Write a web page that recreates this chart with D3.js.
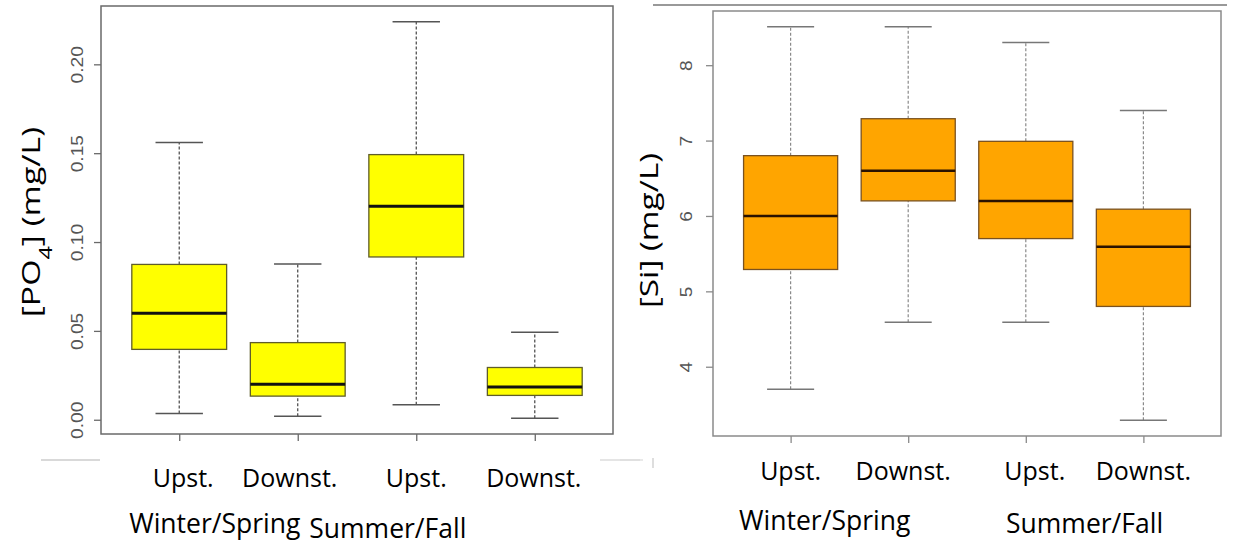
<!DOCTYPE html>
<html>
<head>
<meta charset="utf-8">
<script src="https://cdn.jsdelivr.net/npm/d3@7"></script>
<style>
  body { margin: 0; background: #fff; }
  svg { display: block; }
</style>
</head>
<body>
<script>
// Chart size
const width = 1236;
const height = 548;

// Box labels and season labels
const categories = ["Upst.", "Downst.", "Upst.", "Downst."];
const seasons = ["Winter/Spring", "Summer/Fall"];

// [PO4] box stats (mg/L)
const po4Low    = [0.0035, 0.0019, 0.0084, 0.0009];
const po4Q1     = [0.0396, 0.0133, 0.0916, 0.0137];
const po4Median = [0.0599, 0.0200, 0.1201, 0.0184];
const po4Q3     = [0.0874, 0.0434, 0.1492, 0.0294];
const po4High   = [0.1560, 0.0876, 0.2239, 0.0493];
const po4Ticks  = [0, 0.05, 0.10, 0.15, 0.20];

// [Si] box stats (mg/L)
const siLow    = [3.70, 4.59, 4.59, 3.29];
const siQ1     = [5.29, 6.20, 5.70, 4.80];
const siMedian = [6.00, 6.60, 6.20, 5.59];
const siQ3     = [6.80, 7.29, 6.99, 6.09];
const siHigh   = [8.51, 8.51, 8.30, 7.40];
const siTicks  = [4, 5, 6, 7, 8];

const svg = d3.select("body")
    .append("svg")
    .attr("width", width)
    .attr("height", height);

// R-style range padding (4%)
function padRange(lo, hi) {
    const d = (hi - lo) * 0.04;
    return [lo - d, hi + d];
}

function drawPanel(opts) {
    const stats = categories.map((c, i) => ({
        i: i + 1,
        low: opts.low[i], q1: opts.q1[i], med: opts.median[i],
        q3: opts.q3[i], high: opts.high[i]
    }));

    const x = d3.scaleLinear()
        .domain(padRange(0.5, 4.5))
        .range([opts.left, opts.right]);

    const y = d3.scaleLinear()
        .domain(padRange(d3.min(opts.low), d3.max(opts.high)))
        .range([opts.bottom, opts.top]);

    const g = svg.append("g");
    const boxW = x(1.4) - x(1);
    const capW = x(1.2) - x(1);

    // whiskers
    g.selectAll(".whisker")
        .data(stats.flatMap(d => [[d.low, d.q1, d.i], [d.q3, d.high, d.i]]))
        .enter()
        .append("line")
        .attr("x1", d => x(d[2]))
        .attr("x2", d => x(d[2]))
        .attr("y1", d => y(d[0]))
        .attr("y2", d => y(d[1]))
        .attr("stroke", opts.whiskerColor)
        .attr("stroke-width", 1.2)
        .attr("stroke-dasharray", "3,2");

    // caps
    g.selectAll(".cap")
        .data(stats.flatMap(d => [[d.low, d.i], [d.high, d.i]]))
        .enter()
        .append("line")
        .attr("x1", d => x(d[1]) - capW)
        .attr("x2", d => x(d[1]) + capW)
        .attr("y1", d => y(d[0]))
        .attr("y2", d => y(d[0]))
        .attr("stroke", opts.capColor)
        .attr("stroke-width", 1.5);

    // boxes
    g.selectAll(".box")
        .data(stats)
        .enter()
        .append("rect")
        .attr("x", d => x(d.i) - boxW)
        .attr("y", d => y(d.q3))
        .attr("width", boxW * 2)
        .attr("height", d => y(d.q1) - y(d.q3))
        .attr("fill", opts.fill)
        .attr("stroke", opts.boxStroke)
        .attr("stroke-width", 1.3);

    // medians
    g.selectAll(".median")
        .data(stats)
        .enter()
        .append("line")
        .attr("x1", d => x(d.i) - boxW)
        .attr("x2", d => x(d.i) + boxW)
        .attr("y1", d => y(d.med))
        .attr("y2", d => y(d.med))
        .attr("stroke", opts.medianColor)
        .attr("stroke-width", opts.medianWidth);

    // frame
    g.append("rect")
        .attr("x", opts.left)
        .attr("y", opts.top)
        .attr("width", opts.right - opts.left)
        .attr("height", opts.bottom - opts.top)
        .attr("fill", "none")
        .attr("stroke", opts.frameColor)
        .attr("stroke-width", 1.5);

    // y axis (rotated R-style labels)
    const yAxis = g.append("g")
        .attr("transform", `translate(${opts.left}, 0)`)
        .call(d3.axisLeft(y).tickValues(opts.ticks).tickSize(7).tickFormat(d3.format(opts.fmt)));
    yAxis.select(".domain").remove();
    yAxis.selectAll("line").attr("stroke", opts.frameColor).attr("stroke-width", 1.3);
    yAxis.selectAll("text")
        .attr("x", null)
        .attr("dy", "0.36em")
        .attr("transform", `translate(${opts.tickLabelX - opts.left}, 0) rotate(-90) scale(${opts.tickStretch}, 1)`)
        .attr("text-anchor", "middle")
        .style("font-family", "'Liberation Sans', Arial, sans-serif")
        .style("font-size", "16px")
        .attr("fill", "#555");

    // x axis ticks
    const xAxis = g.append("g")
        .attr("transform", `translate(0, ${opts.bottom})`)
        .call(d3.axisBottom(x).tickValues([1, 2, 3, 4]).tickSize(7).tickFormat(""));
    xAxis.select(".domain").remove();
    xAxis.selectAll("line").attr("stroke", opts.frameColor).attr("stroke-width", 1.3);

    // y title
    const title = g.append("text")
        .attr("transform", `translate(${opts.titleX}, ${(opts.top + opts.bottom) / 2 + opts.titleShift}) rotate(-90) scale(${opts.titleStretch}, 1)`)
        .attr("text-anchor", "middle")
        .attr("dy", "0.3em")
        .style("font-family", "'Open Sans', sans-serif")
        .style("font-size", "26px")
        .attr("fill", "#000");
    title.append("tspan").text(opts.titleA);
    if (opts.titleSub) {
        title.append("tspan").text(opts.titleSub)
            .attr("baseline-shift", "sub")
            .style("font-size", "18px");
        title.append("tspan").text(opts.titleB);
    }

    // category labels
    g.selectAll(".cat")
        .data(categories)
        .enter()
        .append("text")
        .attr("x", (d, i) => x(i + 1) + opts.catShift[i])
        .attr("y", opts.catY)
        .attr("text-anchor", "middle")
        .style("font-family", "'Open Sans', sans-serif")
        .style("font-size", "25px")
        .text(d => d);

    // season labels
    g.selectAll(".season")
        .data(seasons)
        .enter()
        .append("text")
        .attr("x", (d, i) => x(opts.seasonAt[i]))
        .attr("y", (d, i) => opts.seasonY[i])
        .attr("text-anchor", "middle")
        .style("font-family", "'Open Sans', sans-serif")
        .style("font-size", "26.5px")
        .text(d => d);
}

// Left panel: phosphate
drawPanel({
    low: po4Low, q1: po4Q1, median: po4Median, q3: po4Q3, high: po4High,
    ticks: po4Ticks, fmt: ".2f",
    left: 101, right: 613, top: 6, bottom: 434,
    fill: "#ffff00", boxStroke: "#5f5d2a",
    medianColor: "#111", medianWidth: 3,
    whiskerColor: "#444", capColor: "#555", frameColor: "#6a6a6a",
    tickLabelX: 77, tickStretch: 1.2,
    titleX: 32, titleShift: 2, titleStretch: 1.3,
    titleA: "[PO", titleSub: "4", titleB: "] (mg/L)",
    catY: 487, catShift: [4, -8, 0, -1],
    seasonAt: [1.3, 2.76], seasonY: [533, 538]
});

// Right panel: silica
drawPanel({
    low: siLow, q1: siQ1, median: siMedian, q3: siQ3, high: siHigh,
    ticks: siTicks, fmt: "d",
    left: 713, right: 1221, top: 11, bottom: 436,
    fill: "#ffa500", boxStroke: "#7a5220",
    medianColor: "#2a1200", medianWidth: 2.5,
    whiskerColor: "#8a8a8a", capColor: "#777", frameColor: "#8a8a8a",
    tickLabelX: 686, tickStretch: 1.2,
    titleX: 650, titleShift: 7, titleStretch: 1.28,
    titleA: "[Si] (mg/L)",
    catY: 480, catShift: [0, -5, 9, 0],
    seasonAt: [1.29, 3.5], seasonY: [530, 533]
});

// stray rule lines left over from the source slide
const rules = [
    [41, 460, 100, 460, "#ccc"],
    [600, 460, 640, 460, "#ddd"],
    [620, 460, 643, 460, "#ddd"],
    [653, 458, 653, 468, "#ccc"],
    [653, 5, 1227, 5, "#777"]
];
svg.selectAll(".rule")
    .data(rules)
    .enter()
    .append("line")
    .attr("x1", d => d[0]).attr("y1", d => d[1])
    .attr("x2", d => d[2]).attr("y2", d => d[3])
    .attr("stroke", d => d[4])
    .attr("stroke-width", 1.3);
</script>
</body>
</html>
